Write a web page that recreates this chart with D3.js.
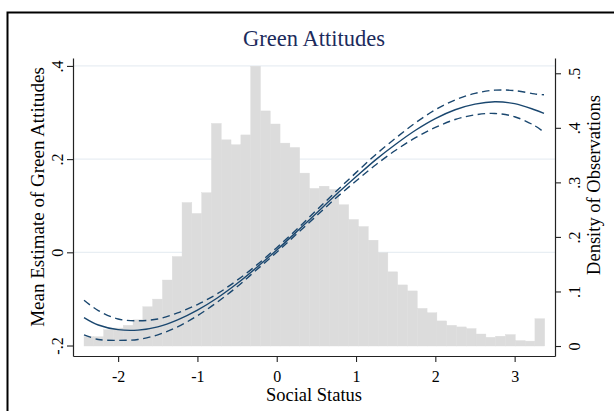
<!DOCTYPE html>
<html>
<head>
<meta charset="utf-8">
<script src="https://cdn.jsdelivr.net/npm/d3@7"></script>
<style>
  body { margin: 0; background: #fff; }
  text { font-family: "Liberation Serif", "Times New Roman", serif; }
</style>
</head>
<body>
<svg id="chart"></svg>
<script>
// Histogram of social status (density per bin)
const binStart = -2.43;
const binWidth = 0.1236;
const densities = [
  0.017, 0.017, 0.030, 0.033, 0.038, 0.048, 0.072, 0.086, 0.121, 0.164,
  0.263, 0.243, 0.281, 0.408, 0.378, 0.369, 0.387, 0.513, 0.431, 0.407,
  0.372, 0.364, 0.317, 0.289, 0.293, 0.287, 0.259, 0.232, 0.219, 0.194,
  0.171, 0.136, 0.112, 0.101, 0.069, 0.061, 0.046, 0.038, 0.035, 0.032,
  0.022, 0.016, 0.018, 0.021, 0.010, 0.009, 0.050
];

// Fitted mean estimate with confidence bounds
const statusPoints = [-2.43, -2.25, -2, -1.75, -1.5, -1.25, -1, -0.75, -0.5, -0.25,
  0, 0.25, 0.5, 0.75, 1, 1.25, 1.5, 1.75, 2, 2.25, 2.5, 2.75, 3, 3.25, 3.37];
const fitMean = [-0.140, -0.156, -0.166, -0.167, -0.160, -0.145, -0.124, -0.098, -0.067, -0.032,
  0.005, 0.044, 0.084, 0.124, 0.162, 0.199, 0.232, 0.262, 0.287, 0.306, 0.318, 0.323, 0.319, 0.306, 0.298];
const ciLower = [-0.177, -0.187, -0.189, -0.187, -0.177, -0.160, -0.136, -0.107, -0.074, -0.037,
  0.000, 0.039, 0.078, 0.117, 0.153, 0.188, 0.219, 0.246, 0.268, 0.285, 0.295, 0.298, 0.291, 0.272, 0.258];
const ciUpper = [-0.103, -0.125, -0.143, -0.147, -0.143, -0.130, -0.112, -0.089, -0.060, -0.027,
  0.010, 0.049, 0.090, 0.131, 0.171, 0.210, 0.245, 0.278, 0.306, 0.327, 0.341, 0.348, 0.347, 0.340, 0.338];

// Tick values
const xTicks = [-2, -1, 0, 1, 2, 3];
const yLeftTicks = [-0.2, 0, 0.2, 0.4];
const yRightTicks = [0, 0.1, 0.2, 0.3, 0.4, 0.5];

const width = 614;
const height = 411;

const svg = d3.select("#chart")
  .attr("width", width)
  .attr("height", height);

// Outer graph frame
svg.append("rect")
  .attr("x", 7.5).attr("y", 12.5)
  .attr("width", 640).attr("height", 430)
  .attr("fill", "none")
  .attr("stroke", "#000")
  .attr("stroke-width", 2);

// Scales
const x = d3.scaleLinear().domain([-2.569, 3.509]).range([73, 555]);
const yL = d3.scaleLinear().domain([-0.2225, 0.417]).range([356, 58]);
const yR = d3.scaleLinear().domain([-0.0183, 0.528]).range([356, 58]);

// Stata style labels: plain hyphen, no leading zero
const stataFmt = d => d === 0 ? "0" : (d < 0 ? "-" : "") + String(Math.abs(d)).replace(/^0\./, ".");

// Gridlines
svg.append("g")
  .selectAll("line")
  .data(yLeftTicks.filter(d => d > -0.2))
  .join("line")
  .attr("x1", x.range()[0]).attr("x2", x.range()[1])
  .attr("y1", d => yL(d)).attr("y2", d => yL(d))
  .attr("stroke", "#e8eef3")
  .attr("stroke-width", 1.2);

// Histogram bars
svg.append("g")
  .selectAll("rect")
  .data(densities)
  .join("rect")
  .attr("x", (d, i) => x(binStart + i * binWidth))
  .attr("width", (d, i) => x(binStart + (i + 1) * binWidth) - x(binStart + i * binWidth))
  .attr("y", d => yR(d))
  .attr("height", d => yR(0) - yR(d))
  .attr("fill", "#dcdcdc")
  .attr("stroke", "#dcdcdc")
  .attr("stroke-width", 0.4);

// Fitted lines
const lineColor = "#1a476f";
const makeLine = vals => d3.line()
  .x((d, i) => x(statusPoints[i]))
  .y((d, i) => yL(vals[i]))
  .curve(d3.curveCatmullRom)(statusPoints);

[ciLower, ciUpper].forEach(vals => {
  svg.append("path")
    .attr("d", makeLine(vals))
    .attr("fill", "none")
    .attr("stroke", lineColor)
    .attr("stroke-width", 1.4)
    .attr("stroke-dasharray", "7.5,4.5");
});

svg.append("path")
  .attr("d", makeLine(fitMean))
  .attr("fill", "none")
  .attr("stroke", lineColor)
  .attr("stroke-width", 1.4);

// Axes
const styleAxis = g => {
  g.select(".domain").attr("stroke", "#222").attr("stroke-width", 1.2);
  g.selectAll(".tick line").attr("stroke", "#222").attr("stroke-width", 1.1);
  g.selectAll(".tick text").attr("fill", "#000").style("font-size", "16px")
    .style("font-family", "'Liberation Serif', serif");
};

svg.append("g")
  .attr("transform", `translate(0, 356)`)
  .call(d3.axisBottom(x).tickValues(xTicks).tickFormat(stataFmt).tickSize(6).tickSizeOuter(0).tickPadding(9))
  .call(styleAxis);

svg.append("g")
  .attr("transform", `translate(73, 0)`)
  .call(d3.axisLeft(yL).tickValues(yLeftTicks).tickFormat(stataFmt).tickSize(6).tickSizeOuter(0))
  .call(styleAxis)
  .selectAll(".tick text")
  .attr("transform", "rotate(-90)")
  .attr("x", 0).attr("y", -10).attr("dy", 0)
  .attr("text-anchor", "middle");

svg.append("g")
  .attr("transform", `translate(555, 0)`)
  .call(d3.axisRight(yR).tickValues(yRightTicks).tickFormat(stataFmt).tickSize(6).tickSizeOuter(0))
  .call(styleAxis)
  .selectAll(".tick text")
  .attr("transform", "rotate(-90)")
  .attr("x", 0).attr("y", 25).attr("dy", 0)
  .attr("text-anchor", "middle");

// Titles
svg.append("text")
  .attr("x", 314).attr("y", 46)
  .attr("text-anchor", "middle")
  .style("font-size", "22.5px")
  .style("fill", "#1c2b5c")
  .text("Green Attitudes");

svg.append("text")
  .attr("x", 314).attr("y", 401)
  .attr("text-anchor", "middle")
  .style("font-size", "18.5px")
  .text("Social Status");

svg.append("text")
  .attr("transform", "translate(44, 197) rotate(-90)")
  .attr("text-anchor", "middle")
  .style("font-size", "19px")
  .text("Mean Estimate of Green Attitudes");

svg.append("text")
  .attr("transform", "translate(600, 185) rotate(-90)")
  .attr("text-anchor", "middle")
  .style("font-size", "18.5px")
  .text("Density of Observations");
</script>
</body>
</html>
